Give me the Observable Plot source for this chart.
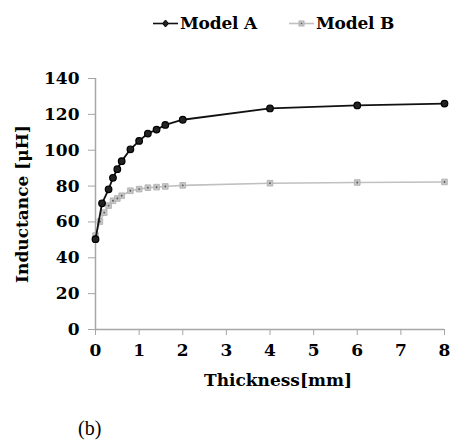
<!DOCTYPE html>
<html>
<head>
<meta charset="utf-8">
<script src="https://cdn.jsdelivr.net/npm/d3@7"></script>
<script src="https://cdn.jsdelivr.net/npm/@observablehq/plot@0.6"></script>
<style>
  body { margin: 0; background: #fff; font-family: "Liberation Serif", serif; }
  #wrap { position: relative; width: 454px; height: 447px; overflow: hidden; }
  #legend { position: absolute; left: 0; top: 0; width: 454px; height: 48px; }
  #chart { position: absolute; left: 0; top: 48px; }
  #cap { position: absolute; left: 78px; top: 417px; font-size: 20px; }
  .lg { position: absolute; top: 13px; font-family: "DejaVu Serif", serif; font-weight: bold; font-size: 17px; display: flex; align-items: center; letter-spacing: -0.2px; }
  #chart svg text { font-family: "DejaVu Serif", serif !important; }
</style>
</head>
<body>
<div id="wrap">
  <div id="legend"></div>
  <div id="chart"></div>
  <div id="cap">(b)</div>
</div>
<script>
const seriesNames = ["Model A", "Model B"];
const thicknessA = [0, 0.15, 0.3, 0.4, 0.5, 0.6, 0.8, 1.0, 1.2, 1.4, 1.6, 2, 4, 6, 8];
const inductanceA = [50.4, 70.4, 78.2, 84.6, 89.4, 93.9, 100.5, 105.2, 109.3, 111.5, 114.1, 117, 123.3, 125, 126];
const thicknessB = [0, 0.1, 0.2, 0.3, 0.4, 0.5, 0.6, 0.8, 1.0, 1.2, 1.4, 1.6, 2, 4, 6, 8];
const inductanceB = [52.4, 60.2, 65.2, 69.1, 71.8, 73.1, 74.6, 77.4, 78.3, 79.1, 79.4, 79.8, 80.4, 81.6, 82, 82.3];
const xTicks = [0, 1, 2, 3, 4, 5, 6, 7, 8];
const yTicks = [0, 20, 40, 60, 80, 100, 120, 140];
const xTitle = "Thickness[mm]";
const yTitle = "Inductance [μH]";

const dataA = thicknessA.map((t, i) => ({t, v: inductanceA[i]}));
const dataB = thicknessB.map((t, i) => ({t, v: inductanceB[i]}));

const fontStyle = {fontFamily: "'DejaVu Serif', serif", fontWeight: "bold", fontSize: "17px", color: "#000", background: "transparent"};

const plot = Plot.plot({
  width: 454,
  height: 367,
  marginTop: 30,
  marginLeft: 95,
  marginRight: 10,
  marginBottom: 86,
  style: fontStyle,
  x: {domain: [0, 8]},
  y: {domain: [0, 140]},
  marks: [
    Plot.ruleY([0], {stroke: "#a6a6a6", strokeWidth: 1.5}),
    Plot.ruleX([0], {stroke: "#a6a6a6", strokeWidth: 1.5}),
    Plot.axisX({ticks: xTicks, tickSize: 6, tickPadding: 8, stroke: "#a6a6a6", tickFormat: d => d, label: null}),
    Plot.axisY({ticks: yTicks, tickSize: 7, tickPadding: 9, stroke: "#a6a6a6", tickFormat: d => d, label: yTitle, labelAnchor: "center", labelOffset: 80, labelArrow: "none"}),
    Plot.text([xTitle], {frameAnchor: "bottom", dx: 8, dy: 56, text: d => d, fontWeight: "bold", fontSize: 17}),
    Plot.line(dataB, {x: "t", y: "v", stroke: "#c0c0c0", strokeWidth: 1.6}),
    Plot.dot(dataB, {x: "t", y: "v", symbol: "square", r: 3.2, fill: "#c4c4c4", stroke: "#b0b0b0", strokeWidth: 0.8}),
    Plot.dot(dataB, {x: "t", y: "v", r: 0.9, fill: "#555"}),
    Plot.line(dataA, {x: "t", y: "v", stroke: "#111", strokeWidth: 1.8}),
    Plot.dot(dataA, {x: "t", y: "v", symbol: "circle", r: 3.3, fill: "#222", stroke: "#000", strokeWidth: 1.2})
  ]
});
document.getElementById("chart").appendChild(plot);

// legend built from series names
const legend = document.getElementById("legend");
const legendPos = [153, 289];
const legendStyles = [
  {line: "#111", fill: "#222", sym: "diamond"},
  {line: "#c0c0c0", fill: "#c4c4c4", sym: "square"}
];
seriesNames.forEach((name, i) => {
  const item = document.createElement("div");
  item.className = "lg";
  item.style.left = legendPos[i] + "px";
  const st = legendStyles[i];
  const marker = st.sym === "diamond"
    ? `<path d="M12.5,4 L15.5,7.5 L12.5,11 L9.5,7.5 Z" fill="${st.fill}" stroke="#000"/>`
    : `<rect x="10" y="5" width="5" height="5" fill="${st.fill}" stroke="#b0b0b0"/><circle cx="12.5" cy="7.5" r="0.8" fill="#555"/>`;
  item.innerHTML = `<svg width="25" height="15" style="margin-right:2px"><line x1="0" x2="25" y1="7.5" y2="7.5" stroke="${st.line}" stroke-width="1.6"/>${marker}</svg><span>${name}</span>`;
  legend.appendChild(item);
});
</script>
</body>
</html>
